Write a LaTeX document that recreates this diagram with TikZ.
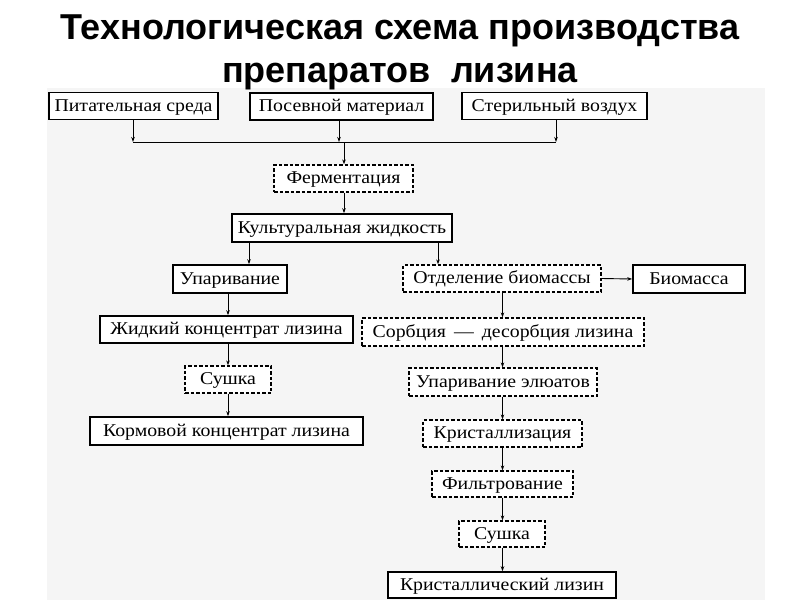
\documentclass[tikz,border=0pt]{standalone}
\usepackage{fontspec}
\setmainfont{Liberation Serif}[FakeStretch=1.1]
\newfontfamily\titlefont{Liberation Sans}
\usetikzlibrary{arrows.meta}
\tikzset{
  boxbase/.style={fill=white, minimum height=27pt, inner sep=0pt, text height=10pt, text depth=0pt, font=\fontsize{18}{20}\selectfont},
  solidbox/.style={boxbase, draw=black, line width=1.6pt},
  dashbox/.style={boxbase, draw=black, line width=1.3pt, dash pattern=on 3.5pt off 2pt},
  arr/.style={line width=0.9pt, -{Stealth[length=5pt,width=3.5pt]}},
  ln/.style={line width=0.9pt},
  ttl/.style={font=\titlefont\bfseries\fontsize{36}{40}\selectfont, inner sep=0pt, anchor=base}
}
\begin{document}
\begin{tikzpicture}[x=1pt,y=-1pt]
\useasboundingbox (0,0) rectangle (800,600);
\fill[white] (0,0) rectangle (800,600);
\fill[black!4] (47,88) rectangle (765,600);
\node[ttl] (t1) at (400,39) {Технологическая схема производства};
\node[ttl] (t2) at (400,82) {препаратов\ \ лизина};
% top row
\node[solidbox, minimum width=169pt] (pit) at (133.5,106) {Питательная среда};
\node[solidbox, minimum width=183pt] (pos) at (341.5,106.5) {Посевной материал};
\node[solidbox, minimum width=185pt] (ster) at (554.5,106) {Стерильный воздух};
\node[dashbox, minimum width=139pt] (ferm) at (343.5,178.5) {Ферментация};
\node[solidbox, minimum width=220pt, minimum height=28pt] (cult) at (342,228) {Культуральная жидкость};
% left branch
\node[solidbox, minimum width=114pt, minimum height=28pt] (upar) at (230,279) {Упаривание};
\node[solidbox, minimum width=253pt] (zhid) at (226.5,329.5) {Жидкий концентрат лизина};
\node[dashbox, minimum width=86pt] (sush1) at (228,379.5) {Сушка};
\node[solidbox, minimum width=273pt, minimum height=28pt] (korm) at (226.5,431) {Кормовой концентрат лизина};
% right branch
\node[dashbox, minimum width=198pt] (otd) at (502,278.5) {Отделение биомассы};
\node[solidbox, minimum width=112pt, minimum height=28pt] (bio) at (689,279) {Биомасса};
\node[dashbox, minimum width=282pt, minimum height=28pt] (sorb) at (503,332) {Сорбция \,---\, десорбция лизина};
\node[dashbox, minimum width=188pt, minimum height=28pt] (upel) at (503,382) {Упаривание элюатов};
\node[dashbox, minimum width=159pt] (kris) at (502.5,433.5) {Кристаллизация};
\node[dashbox, minimum width=141pt, minimum height=26pt] (filt) at (502.5,484) {Фильтрование};
\node[dashbox, minimum width=86pt, minimum height=26pt] (sush2) at (502,534) {Сушка};
\node[solidbox, minimum width=228pt, minimum height=26pt] (krl) at (502,585) {Кристаллический лизин};
% coordinates
\coordinate (hl) at (133,142);
\coordinate (hm1) at (339,142);
\coordinate (hm2) at (344,142);
\coordinate (hr) at (556,142);
\coordinate (xl) at (249,0);
\coordinate (xr) at (438,0);
\coordinate (xz) at (228,0);
\coordinate (xs) at (502.5,0);
% connectors
\draw[arr] (pit.south -| hl) -- (hl);
\draw[arr] (pos.south -| hm1) -- (hm1);
\draw[arr] (ster.south -| hr) -- (hr);
\draw[ln] (hl) -- (hr);
\draw[arr] (hm2) -- (ferm.north -| hm2);
\draw[arr] (ferm.south -| hm2) -- (cult.north -| hm2);
\draw[arr] (cult.south -| xl) -- (upar.north -| xl);
\draw[arr] (cult.south -| xr) -- (otd.north -| xr);
\draw[arr] (upar.south -| xz) -- (zhid.north -| xz);
\draw[arr] (zhid.south -| xz) -- (sush1.north -| xz);
\draw[arr] (sush1.south -| xz) -- (korm.north -| xz);
\draw[arr] (otd.east) -- (bio.west);
\draw[arr] (otd.south -| xs) -- (sorb.north -| xs);
\draw[arr] (sorb.south -| xs) -- (upel.north -| xs);
\draw[arr] (upel.south -| xs) -- (kris.north -| xs);
\draw[arr] (kris.south -| xs) -- (filt.north -| xs);
\draw[arr] (filt.south -| xs) -- (sush2.north -| xs);
\draw[arr] (sush2.south -| xs) -- (krl.north -| xs);
\end{tikzpicture}
\end{document}
